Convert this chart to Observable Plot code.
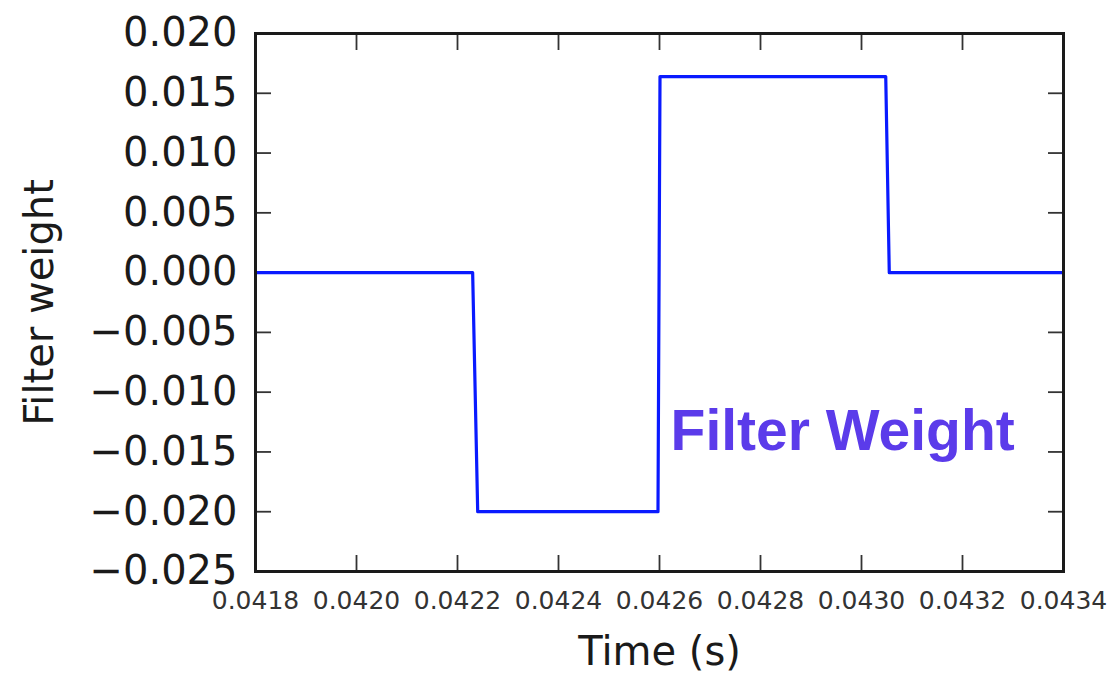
<!DOCTYPE html>
<html>
<head>
<meta charset="utf-8">
<script src="https://cdn.jsdelivr.net/npm/d3@7"></script>
<script src="https://cdn.jsdelivr.net/npm/@observablehq/plot@0.6"></script>
<style>
  html, body { margin: 0; padding: 0; background: #fff; }
  #chart svg { display: block; }
</style>
</head>
<body>
<div id="chart"></div>
<script>
// Step-shaped filter weight (time in seconds, weight)
const times   = [0.0418, 0.04223, 0.04224, 0.042597, 0.042601, 0.043048, 0.043055, 0.0434];
const weights = [0.0,    0.0,     -0.020,  -0.020,    0.0164,   0.0164,   0.0,      0.0];

const xTicks = [0.0418, 0.0420, 0.0422, 0.0424, 0.0426, 0.0428, 0.0430, 0.0432, 0.0434];
const yTicks = [0.020, 0.015, 0.010, 0.005, 0.000, -0.005, -0.010, -0.015, -0.020, -0.025];
const xDomain = [0.0418, 0.0434];
const yDomain = [-0.025, 0.020];

const xLabel = "Time (s)";
const yLabel = "Filter weight";

// annotation text and its anchor in data space
const noteText = ["Filter Weight"];
const noteX = [0.042622];
const noteY = [-0.01484];

const series = times.map((t, i) => ({t, w: weights[i]}));
const notes = noteText.map((s, i) => ({s, x: noteX[i], y: noteY[i]}));

const fmtY = d3.format(".3f");
const fmtX = d3.format(".4f");
const FONT = "DejaVu Sans, sans-serif";

const chart = Plot.plot({
  width: 1110,
  height: 675,
  marginLeft: 255,
  marginRight: 47,
  marginTop: 33,
  marginBottom: 104,
  style: {fontFamily: FONT, background: "#fff"},
  x: {domain: xDomain, label: null},
  y: {domain: yDomain, label: null},
  marks: [
    // inward tick marks on all four sides
    Plot.axisY({ticks: yTicks, anchor: "left", tickSize: 16, dx: 16, tickFormat: () => "", label: null, stroke: "#333", strokeWidth: 1.8}),
    Plot.axisY({ticks: yTicks, anchor: "right", tickSize: 16, dx: -16, tickFormat: () => "", label: null, stroke: "#333", strokeWidth: 1.8}),
    Plot.axisX({ticks: xTicks, anchor: "bottom", tickSize: 16, dy: -16, tickFormat: () => "", label: null, stroke: "#333", strokeWidth: 1.8}),
    Plot.axisX({ticks: xTicks, anchor: "top", tickSize: 16, dy: 16, tickFormat: () => "", label: null, stroke: "#333", strokeWidth: 1.8}),
    // tick labels
    Plot.axisY({ticks: yTicks, anchor: "left", tickSize: 0, tickPadding: 18, tickFormat: fmtY, label: null, fontSize: 40, fill: "#1a1a1a"}),
    Plot.axisX({ticks: xTicks, anchor: "bottom", tickSize: 0, tickPadding: 20, tickFormat: fmtX, label: null, fontSize: 25, fill: "#333"}),
    // axis titles
    Plot.text([xLabel], {text: d => d, frameAnchor: "bottom", dy: 81, textAnchor: "middle", lineAnchor: "middle", fontSize: 40, fill: "#1a1a1a"}),
    Plot.text([yLabel], {text: d => d, frameAnchor: "left", dx: -215, rotate: -90, textAnchor: "middle", lineAnchor: "middle", fontSize: 40, fill: "#1a1a1a"}),
    // data line
    Plot.line(series, {x: "t", y: "w", stroke: "#0a1aff", strokeWidth: 3.2}),
    // annotation
    Plot.text(notes, {x: "x", y: "y", text: "s", textAnchor: "start", lineAnchor: "bottom", fontSize: 57, fontWeight: "bold", fontFamily: "Liberation Sans, Arial, sans-serif", fill: "#5b3bea"}),
    Plot.frame({stroke: "#1a1a1a", strokeWidth: 3})
  ]
});
document.getElementById("chart").appendChild(chart);
</script>
</body>
</html>
